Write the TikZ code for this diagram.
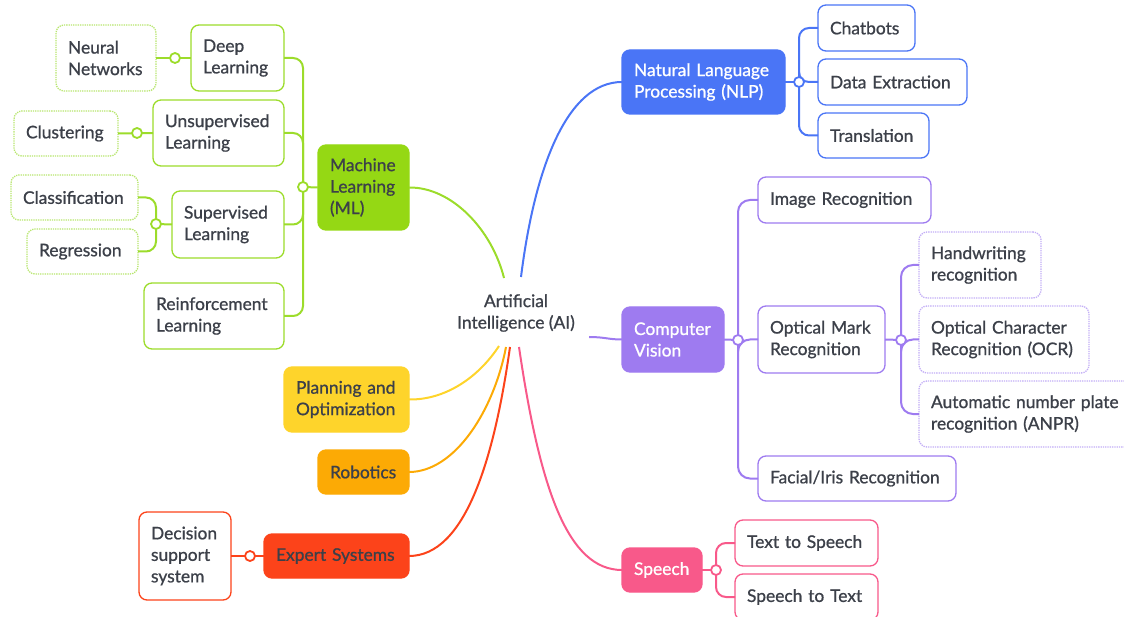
\documentclass[tikz,border=0pt]{standalone}
\usepackage{fontspec}
\setmainfont{Lato}[BoldFont=Lato, BoldFeatures={FakeBold=0.9}]
\hyphenpenalty=10000
\exhyphenpenalty=10000
\definecolor{txt}{HTML}{3C4049}
\definecolor{nlpC}{HTML}{4A75F6}
\definecolor{mlC}{HTML}{95D814}
\definecolor{mlL}{HTML}{9CDC2B}
\definecolor{mlD}{HTML}{B8E66E}
\definecolor{cvC}{HTML}{9E7BF0}
\definecolor{cvD}{HTML}{C2ADF6}
\definecolor{plC}{HTML}{FED42B}
\definecolor{robC}{HTML}{FCAA05}
\definecolor{expC}{HTML}{FC431A}
\definecolor{spC}{HTML}{F8598A}
\tikzset{
  base/.style={rounded corners=8pt, align=left, inner xsep=12pt, inner ysep=0pt,
    outer sep=0pt, line width=1.3pt, text=txt, anchor=north west},
  mainbox/.style={base, fill=#1, draw=#1},
  mainboxw/.style={mainbox=#1, text=white},
  subbox/.style={base, draw=#1, fill=white},
  leafbox/.style={base, draw=#1, densely dotted, fill=white},
  conn/.style={draw=#1, line width=2pt},
  jcirc/.style={circle, draw=#1, fill=white, line width=1.8pt, minimum size=10pt, inner sep=0pt},
}
\begin{document}
\begin{tikzpicture}[x=1pt,y=-1pt, font=\fontsize{17.4}{21.5}\selectfont\bfseries]
\useasboundingbox (0,0) rectangle (1124,617);

% centre
\node[align=center, text=txt, inner sep=0pt] (ai) at (516,313) {Artificial\\Intelligence~(AI)};

% NLP
\node[mainboxw=nlpC, minimum width=163pt, minimum height=64pt, text width=139pt] (nlp) at (622,50) {Natural~Language\\Processing~(NLP)};
\node[subbox=nlpC, minimum width=97pt, minimum height=46pt, text width=73pt] (chat) at (818,5) {Chatbots};
\node[subbox=nlpC, minimum width=149pt, minimum height=46pt, text width=125pt] (dext) at (818,59) {Data~Extraction};
\node[subbox=nlpC, minimum width=111pt, minimum height=45pt, text width=87pt] (trans) at (818,113) {Translation};

% ML
\node[mainbox=mlC, minimum width=91pt, minimum height=85pt, text width=67pt] (ml) at (318,145) {Machine\\Learning\\(ML)};
\node[subbox=mlL, minimum width=93pt, minimum height=66pt, text width=69pt] (dl) at (191,25) {Deep\\Learning};
\node[leafbox=mlD, minimum width=100pt, minimum height=66pt, text width=76pt] (nn) at (56,25) {Neural\\Networks};
\node[subbox=mlL, minimum width=131pt, minimum height=66pt, text width=107pt] (unsup) at (153,100) {Unsupervised\\Learning};
\node[leafbox=mlD, minimum width=104pt, minimum height=45pt, text width=80pt] (clu) at (14,111) {Clustering};
\node[subbox=mlL, minimum width=112pt, minimum height=67pt, text width=88pt] (sup) at (172,191) {Supervised\\Learning};
\node[leafbox=mlD, minimum width=127pt, minimum height=45pt, text width=103pt] (cls) at (11,175) {Classification};
\node[leafbox=mlD, minimum width=111pt, minimum height=45pt, text width=87pt] (reg) at (27,229) {Regression};
\node[subbox=mlL, minimum width=140pt, minimum height=66pt, text width=116pt] (rl) at (144,283) {Reinforcement\\Learning};

% planning, robotics, expert
\node[mainbox=plC, minimum width=125pt, minimum height=65pt, text width=101pt] (pl) at (284,367) {Planning~and\\Optimization};
\node[mainbox=robC, minimum width=91pt, minimum height=44pt, text width=67pt] (rob) at (318,450) {Robotics};
\node[mainbox=expC, minimum width=145pt, minimum height=44pt, text width=121pt] (exp) at (264,534) {Expert~Systems};
\node[subbox=expC, minimum width=92pt, minimum height=88pt, text width=68pt] (dss) at (139,512) {Decision\\support\\system};

% CV
\node[mainboxw=cvC, minimum width=102pt, minimum height=65pt, text width=78pt] (cv) at (622,307) {Computer\\Vision};
\node[subbox=cvC, minimum width=173pt, minimum height=46pt, text width=149pt] (img) at (758,177) {Image~Recognition};
\node[subbox=cvC, minimum width=127pt, minimum height=67pt, text width=103pt] (omr) at (758,306) {Optical~Mark\\Recognition};
\node[subbox=cvC, minimum width=198pt, minimum height=45pt, text width=174pt] (fac) at (758,456) {Facial/Iris~Recognition};
\node[leafbox=cvD, minimum width=122pt, minimum height=66pt, text width=98pt] (hw) at (919,232) {Handwriting\\recognition};
\node[leafbox=cvD, minimum width=170pt, minimum height=67pt, text width=146pt] (ocr) at (919,306) {Optical~Character\\Recognition~(OCR)};
\node[leafbox=cvD, minimum width=216pt, minimum height=66pt, text width=192pt] (anpr) at (919,381) {Automatic~number~plate\\recognition~(ANPR)};

% Speech
\node[mainboxw=spC, minimum width=80pt, minimum height=44pt, text width=56pt] (sp) at (622,548) {Speech};
\node[subbox=spC, minimum width=143pt, minimum height=46pt, text width=119pt] (tts) at (735,520) {Text~to~Speech};
\node[subbox=spC, minimum width=143pt, minimum height=46pt, text width=119pt] (stt) at (735,574) {Speech~to~Text};

% anchor points at the centre
\coordinate (aiml) at (504,278);
\coordinate (ainlp) at (521,277);
\coordinate (aicv) at (589,337);
\coordinate (aipl) at (499,346);
\coordinate (airob) at (506,347);
\coordinate (aiexp) at (510,347);
\coordinate (aisp) at (519,347);

% main curves
\draw[conn=mlL] (ml.east) .. controls (452,187) and (492,230) .. (aiml);
\draw[conn=nlpC] (ainlp) .. controls (535,165) and (568,82) .. (nlp.west);
\draw[conn=cvC] (aicv) .. controls (605,337) and (608,339.5) .. (cv.west);
\draw[conn=plC] (aipl) .. controls (478,378) and (445,400) .. (pl.east);
\draw[conn=robC] (airob) .. controls (494,410) and (455,472) .. (rob.east);
\draw[conn=expC] (aiexp) .. controls (494,460) and (465,556) .. (exp.east);
\draw[conn=spC] (aisp) .. controls (540,490) and (568,570) .. (sp.west);

% junctions
\coordinate (nlpjn) at (799,82);
\coordinate (mljn) at (303,187);
\coordinate (dljn) at (175,58);
\coordinate (unjn) at (137,133);
\coordinate (supjn) at (156,224);
\coordinate (expjn) at (250,556);
\coordinate (cvjn) at (738,340);
\coordinate (omrjn) at (901,340);
\coordinate (spjn) at (716,570);

\draw[conn=nlpC] (nlp.east) -- (nlpjn);
\foreach \c in {chat,dext,trans} \draw[conn=nlpC, rounded corners=10pt] (nlpjn) |- (\c.west);

\draw[conn=mlL] (ml.west) -- (mljn);
\foreach \c in {dl,unsup,sup,rl} \draw[conn=mlL, rounded corners=10pt] (mljn) |- (\c.east);
\draw[conn=mlL] (nn.east) -- (dl.west);
\draw[conn=mlL] (clu.east) -- (unsup.west);
\draw[conn=mlL] (sup.west) -- (supjn);
\foreach \c in {cls,reg} \draw[conn=mlL, rounded corners=10pt] (supjn) |- (\c.east);

\draw[conn=expC] (dss.east) -- (exp.west);

\draw[conn=cvC] (cv.east) -- (cvjn);
\foreach \c in {img,omr,fac} \draw[conn=cvC, rounded corners=12pt] (cvjn) |- (\c.west);
\draw[conn=cvC] (omr.east) -- (omrjn);
\foreach \c in {hw,ocr,anpr} \draw[conn=cvC, rounded corners=12pt] (omrjn) |- (\c.west);

\draw[conn=spC] (sp.east) -- (spjn);
\foreach \c in {tts,stt} \draw[conn=spC, rounded corners=10pt] (spjn) |- (\c.west);

\node[jcirc=nlpC] (nlpjc) at (nlpjn) {};
\node[jcirc=mlL] (mljc) at (mljn) {};
\node[jcirc=mlL] (dljc) at (dljn) {};
\node[jcirc=mlL] (unjc) at (unjn) {};
\node[jcirc=mlL] (supjc) at (supjn) {};
\node[jcirc=expC] (expjc) at (expjn) {};
\node[jcirc=cvC] (cvjc) at (cvjn) {};
\node[jcirc=cvC] (omrjc) at (omrjn) {};
\node[jcirc=spC] (spjc) at (spjn) {};
\end{tikzpicture}
\end{document}
